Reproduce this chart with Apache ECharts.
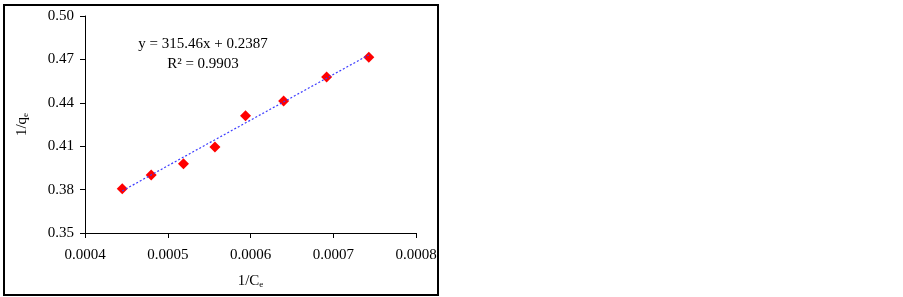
<!DOCTYPE html>
<html><head><meta charset="utf-8">
<script src="https://cdn.jsdelivr.net/npm/echarts@6/dist/echarts.min.js"></script>
<style>
html,body{margin:0;padding:0;background:#fff;}
#wrap{position:relative;width:903px;height:297px;}
#box{position:absolute;left:3px;top:4px;width:432px;height:288px;border:2px solid #000;box-sizing:content-box;pointer-events:none;}
#c{position:absolute;left:0;top:0;width:903px;height:297px;}
</style></head>
<body><div id="wrap"><div id="c"></div><div id="box"></div></div>
<script>
const invCe = [0.000445, 0.000480, 0.000519, 0.000557, 0.000594, 0.000640, 0.000692, 0.000743];
const invQe = [0.3806, 0.3901, 0.3979, 0.4094, 0.4311, 0.4412, 0.4578, 0.4714];
const trendX = [0.000445, 0.000743];
const trendY = [0.3791, 0.4731];
const eqLine1 = 'y = 315.46x + 0.2387';
const eqLine2 = 'R² = 0.9903';
const font = 'Liberation Serif';

const chart = echarts.init(document.getElementById('c'));
chart.setOption({
  animation:false,
  backgroundColor:'#fff',
  grid:{left:85,right:487,top:16,bottom:64},
  xAxis:{type:'value',min:0.0004,max:0.0008,interval:0.0001,
    axisLine:{lineStyle:{color:'#000',width:1}},
    axisTick:{show:true,length:5,lineStyle:{color:'#000'}},
    splitLine:{show:false},
    axisLabel:{color:'#000',fontFamily:font,fontSize:15,margin:15,formatter:v=>v.toFixed(4)},
    name:'{a|1/C}{s|e}',nameLocation:'middle',nameGap:40,
    nameTextStyle:{rich:{a:{fontFamily:font,fontSize:15,color:'#000'},s:{fontFamily:font,fontSize:9,color:'#000',padding:[7,0,0,0]}}}
  },
  yAxis:{type:'value',min:0.35,max:0.50,interval:0.03,
    axisLine:{show:true,lineStyle:{color:'#000',width:1}},
    axisTick:{show:true,length:5,lineStyle:{color:'#000'}},
    splitLine:{show:false},
    axisLabel:{color:'#000',fontFamily:font,fontSize:15,margin:11,formatter:v=>v.toFixed(2)},
    name:'{a|1/q}{s|e}',nameLocation:'middle',nameGap:55,nameRotate:90,
    nameTextStyle:{rich:{a:{fontFamily:font,fontSize:15,color:'#000'},s:{fontFamily:font,fontSize:9,color:'#000',padding:[7,0,0,0]}}}
  },
  graphic:[
    {type:'text',x:203,y:44,style:{text:eqLine1,align:'center',verticalAlign:'middle',font:'15px "Liberation Serif"',fill:'#000'}},
    {type:'text',x:203,y:64,style:{text:eqLine2,align:'center',verticalAlign:'middle',font:'15px "Liberation Serif"',fill:'#000'}}
  ],
  series:[
    {type:'line',data:trendX.map((x,i)=>[x,trendY[i]]),symbol:'none',
     lineStyle:{color:'#3b3bff',width:1.2,type:[2,2]},z:3},
    {type:'scatter',data:invCe.map((x,i)=>[x,invQe[i]]),symbol:'diamond',symbolSize:11,
     itemStyle:{color:'#ff0000',opacity:1},z:2}
  ]
});
</script></body></html>
